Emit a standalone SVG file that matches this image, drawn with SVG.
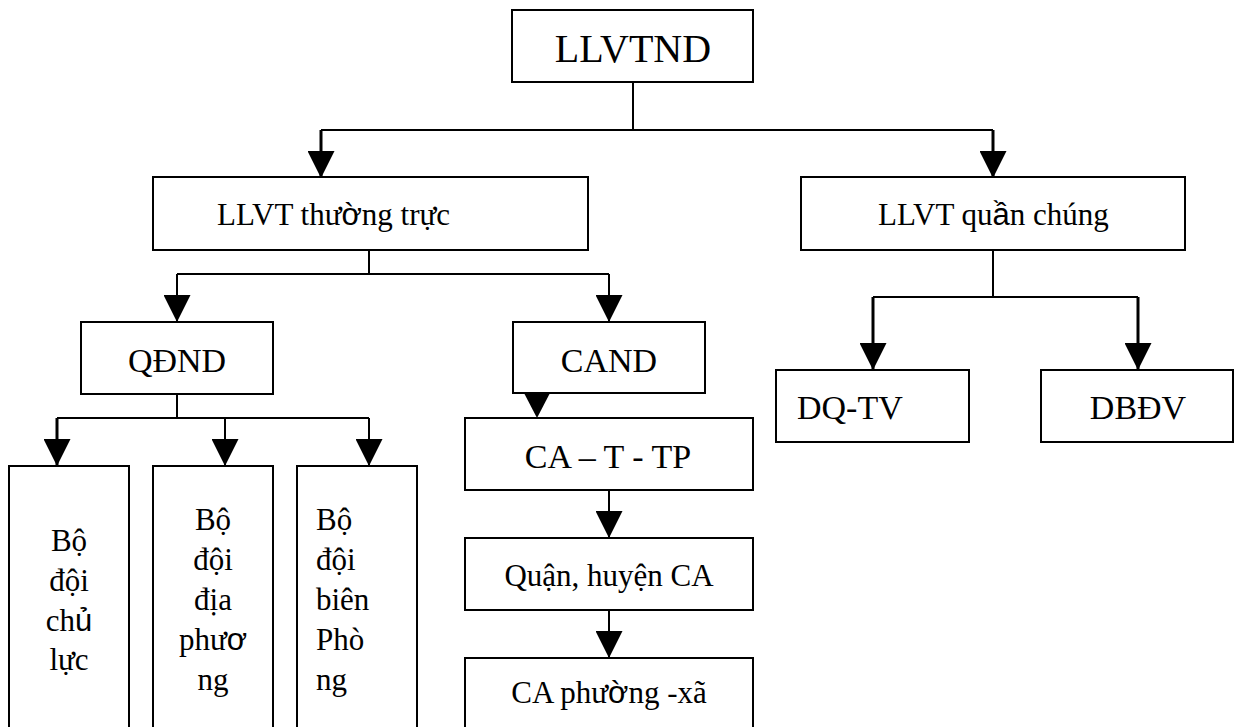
<svg xmlns="http://www.w3.org/2000/svg" width="1235" height="727" viewBox="0 0 1235 727">
<style>
.box{fill:#fff;stroke:#000;stroke-width:2}
.ln{fill:none;stroke:#000;stroke-width:2}
.lt{fill:none;stroke:#000;stroke-width:3}
.t{font-family:"Liberation Serif","Times New Roman",serif;fill:#000}
.big{font-size:40px}
.mid{font-size:34px}
.sm{font-size:31px}
.s{font-family:"Liberation Sans",Arial,sans-serif}
</style>
<defs>
<marker id="ah" markerUnits="userSpaceOnUse" markerWidth="27" markerHeight="27" viewBox="0 0 27 27" refX="27" refY="13.5" orient="auto">
<path d="M0,0 L27,13.5 L0,27 Z" fill="#000"/>
</marker>
</defs>
<rect width="1235" height="727" fill="#fff"/>
<g id="connectors">
<path class="ln" d="M633,82 V130"/>
<path class="ln" d="M321,130 H993"/>
<path class="lt" d="M321,130 V178" marker-end="url(#ah)"/>
<path class="lt" d="M993,130 V178" marker-end="url(#ah)"/>
<path class="ln" d="M369,250 V274"/>
<path class="ln" d="M177,274 H609"/>
<path class="ln" d="M177,274 V322" marker-end="url(#ah)"/>
<path class="ln" d="M609,274 V322" marker-end="url(#ah)"/>
<path class="ln" d="M177,394 V418"/>
<path class="ln" d="M57,418 H369"/>
<path class="lt" d="M57,418 V466" marker-end="url(#ah)"/>
<path class="ln" d="M225,418 V466" marker-end="url(#ah)"/>
<path class="ln" d="M369,418 V466" marker-end="url(#ah)"/>
<polygon points="524,393 550,393 537,418" fill="#000"/>
<path class="ln" d="M609,490 V538" marker-end="url(#ah)"/>
<path class="ln" d="M609,610 V658" marker-end="url(#ah)"/>
<path class="ln" d="M993,250 V297"/>
<path class="ln" d="M873,297 H1138"/>
<path class="lt" d="M873,297 V370" marker-end="url(#ah)"/>
<path class="lt" d="M1138,297 V370" marker-end="url(#ah)"/>
</g>
<g id="n-llvtnd">
<rect class="box" x="512" y="10" width="241" height="72"/>
<text class="t big" x="633" y="62" text-anchor="middle">LLVTND</text>
</g>
<g id="n-thuongtruc">
<rect class="box" x="153" y="177" width="435" height="73"/>
<text class="t sm" x="217" y="225">LLVT thư<tspan class="s">ờ</tspan>ng trực</text>
</g>
<g id="n-quanchung">
<rect class="box" x="801" y="177" width="384" height="73"/>
<text class="t sm" x="878" y="225">LLVT qu<tspan class="s">ầ</tspan>n chúng</text>
</g>
<g id="n-qdnd">
<rect class="box" x="81" y="322" width="192" height="72"/>
<text class="t mid" x="177" y="372" text-anchor="middle">QĐND</text>
</g>
<g id="n-cand">
<rect class="box" x="513" y="322" width="192" height="71"/>
<text class="t mid" x="609" y="372" text-anchor="middle">CAND</text>
</g>
<g id="n-chuluc">
<rect class="box" x="9" y="466" width="120" height="275"/>
<text class="t sm" text-anchor="middle"><tspan x="69" y="551">Bộ</tspan><tspan x="69" y="591">đội</tspan><tspan x="69" y="631">ch<tspan class="s">ủ</tspan></tspan><tspan x="69" y="670">lực</tspan></text>
</g>
<g id="n-diaphuong">
<rect class="box" x="153" y="466" width="120" height="275"/>
<text class="t sm" text-anchor="middle"><tspan x="213" y="530">Bộ</tspan><tspan x="213" y="570">đội</tspan><tspan x="213" y="610">địa</tspan><tspan x="213" y="650">phư<tspan class="s">ơ</tspan></tspan><tspan x="213" y="690">ng</tspan></text>
</g>
<g id="n-bienphong">
<rect class="box" x="297" y="466" width="120" height="275"/>
<text class="t sm"><tspan x="316" y="530">Bộ</tspan><tspan x="316" y="570">đội</tspan><tspan x="316" y="610">biên</tspan><tspan x="316" y="650">Phò</tspan><tspan x="316" y="690">ng</tspan></text>
</g>
<g id="n-catp">
<rect class="box" x="465" y="418" width="288" height="72"/>
<text class="t mid" x="608" y="468" text-anchor="middle">CA – T - TP</text>
</g>
<g id="n-quanhuyen">
<rect class="box" x="465" y="538" width="288" height="72"/>
<text class="t sm" x="609" y="586" text-anchor="middle">Quận, huyện CA</text>
</g>
<g id="n-phuongxa">
<rect class="box" x="465" y="658" width="288" height="80"/>
<text class="t sm" x="609" y="703" text-anchor="middle">CA phư<tspan class="s">ờ</tspan>ng -xã</text>
</g>
<g id="n-dqtv">
<rect class="box" x="776" y="370" width="193" height="72"/>
<text class="t mid" x="797" y="419">DQ-TV</text>
</g>
<g id="n-dbdv">
<rect class="box" x="1041" y="370" width="192" height="72"/>
<text class="t mid" x="1138" y="419" text-anchor="middle">DBĐV</text>
</g>
</svg>
